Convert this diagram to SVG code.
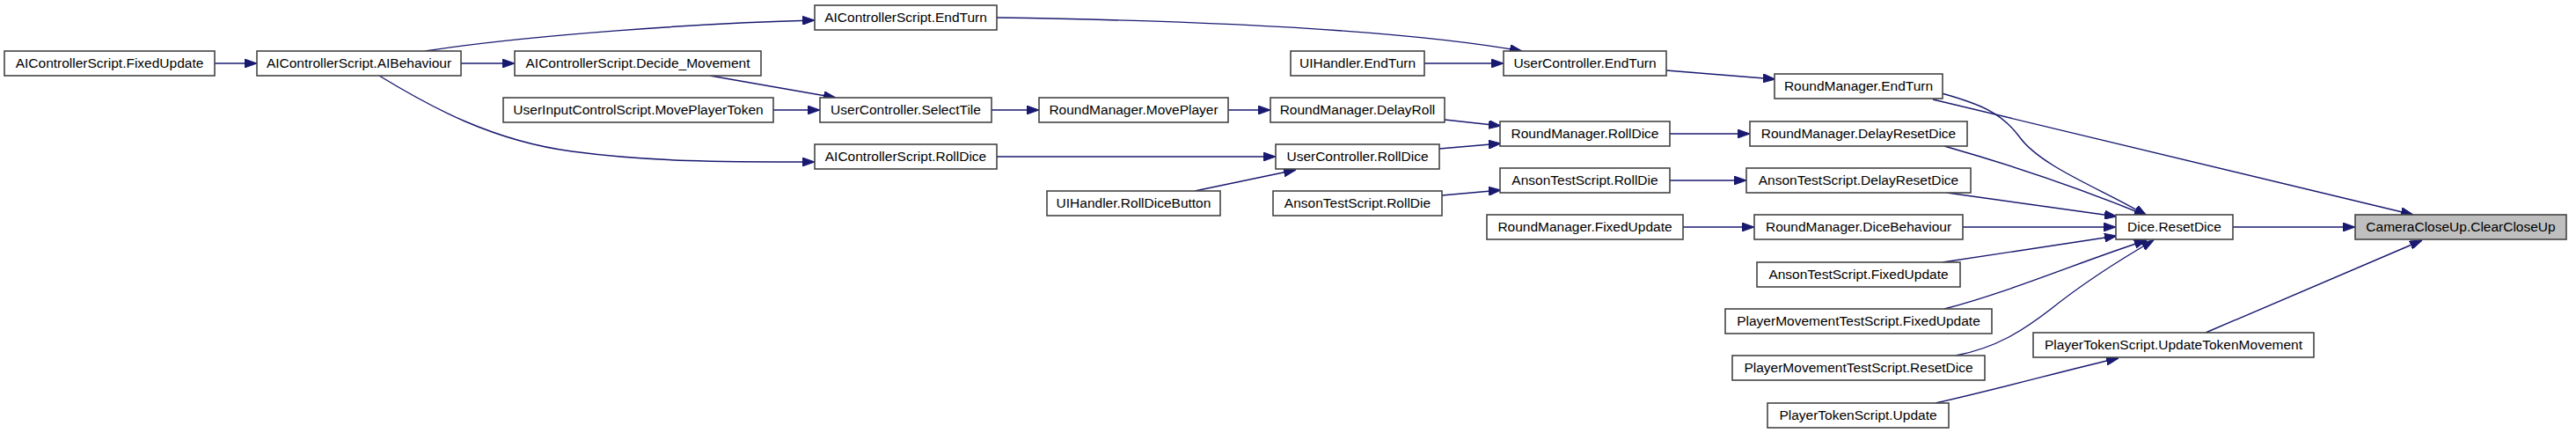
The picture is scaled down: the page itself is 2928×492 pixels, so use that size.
<svg xmlns="http://www.w3.org/2000/svg" width="2928" height="492" viewBox="0 0 2928 492">
<style>
.n rect{fill:#ffffff;stroke:#444444;stroke-width:1.6}
.n.hl rect{fill:#bfbfbf}
.n text{font-family:"Liberation Sans",Arial,sans-serif;font-size:15.5px;fill:#000000;text-anchor:middle}
#edges path{fill:none;stroke:#191970;stroke-width:1.4;marker-end:url(#arr)}
</style>
<defs>
<marker id="arr" viewBox="0 0 14 10" refX="14" refY="5" markerWidth="14" markerHeight="10" markerUnits="userSpaceOnUse" orient="auto">
<path d="M0,0 L14,5 L0,10 z" fill="#191970" stroke="#191970" stroke-width="1"/>
</marker>
</defs>
<rect width="2928" height="492" fill="#ffffff"/>
<g id="edges">
<path d="M244,72 L292,72"/>
<path d="M483,58 C600,40 800,26 926,23"/>
<path d="M524,72 L585,72"/>
<path d="M431,86 C490,122 560,160 650,172 C740,184 820,184 926,184"/>
<path d="M807,86 L950,111"/>
<path d="M879,125 L932,125"/>
<path d="M1133,20 C1400,24 1600,35 1730,58"/>
<path d="M1619,72 L1709,72"/>
<path d="M1127,125 L1181,125"/>
<path d="M1396,125 L1444,125"/>
<path d="M1133,178 L1450,178"/>
<path d="M1358,217 L1473,193"/>
<path d="M1642,136 L1706,143"/>
<path d="M1636,169 L1706,163"/>
<path d="M1639,222 L1706,216"/>
<path d="M1894,80 L2018,90"/>
<path d="M1898,152 L1989,152"/>
<path d="M1898,205 L1985,205"/>
<path d="M1913,258 L1994,258"/>
<path d="M2207,106 C2250,118 2275,128 2295,155 C2320,190 2390,215 2440,245"/>
<path d="M2197,113 L2743,244"/>
<path d="M2210,166 Q2330,200 2440,245"/>
<path d="M2213,219 L2406,246"/>
<path d="M2231,258 L2405,258"/>
<path d="M2208,298 L2406,268"/>
<path d="M2210,351 C2290,330 2370,295 2440,273"/>
<path d="M2223,404 C2270,395 2300,375 2330,352 C2370,320 2415,292 2448,273"/>
<path d="M2200,458 C2280,440 2350,420 2408,407"/>
<path d="M2538,258 L2677,258"/>
<path d="M2507,378 L2753,273"/>
</g>
<g id="n1" class="n"><rect x="5" y="58" width="239" height="28"/><text x="124.5" y="77">AIControllerScript.FixedUpdate</text></g>
<g id="n2" class="n"><rect x="292" y="58" width="232" height="28"/><text x="408" y="77">AIControllerScript.AIBehaviour</text></g>
<g id="n3" class="n"><rect x="585" y="58" width="280" height="28"/><text x="725" y="77">AIControllerScript.Decide_Movement</text></g>
<g id="n4" class="n"><rect x="926" y="6" width="207" height="28"/><text x="1029.5" y="25">AIControllerScript.EndTurn</text></g>
<g id="n5" class="n"><rect x="572" y="111" width="307" height="28"/><text x="725.5" y="130">UserInputControlScript.MovePlayerToken</text></g>
<g id="n6" class="n"><rect x="932" y="111" width="195" height="28"/><text x="1029.5" y="130">UserController.SelectTile</text></g>
<g id="n7" class="n"><rect x="926" y="164" width="207" height="28"/><text x="1029.5" y="183">AIControllerScript.RollDice</text></g>
<g id="n8" class="n"><rect x="1181" y="111" width="215" height="28"/><text x="1288.5" y="130">RoundManager.MovePlayer</text></g>
<g id="n9" class="n"><rect x="1190" y="217" width="197" height="28"/><text x="1288.5" y="236">UIHandler.RollDiceButton</text></g>
<g id="n10" class="n"><rect x="1444" y="111" width="198" height="28"/><text x="1543" y="130">RoundManager.DelayRoll</text></g>
<g id="n11" class="n"><rect x="1450" y="164" width="186" height="28"/><text x="1543" y="183">UserController.RollDice</text></g>
<g id="n12" class="n"><rect x="1447" y="217" width="192" height="28"/><text x="1543" y="236">AnsonTestScript.RollDie</text></g>
<g id="n13" class="n"><rect x="1467" y="58" width="152" height="28"/><text x="1543" y="77">UIHandler.EndTurn</text></g>
<g id="n14" class="n"><rect x="1709" y="58" width="185" height="28"/><text x="1801.5" y="77">UserController.EndTurn</text></g>
<g id="n15" class="n"><rect x="1705" y="138" width="193" height="28"/><text x="1801.5" y="157">RoundManager.RollDice</text></g>
<g id="n16" class="n"><rect x="1705" y="191" width="193" height="28"/><text x="1801.5" y="210">AnsonTestScript.RollDie</text></g>
<g id="n17" class="n"><rect x="1690" y="244" width="223" height="28"/><text x="1801.5" y="263">RoundManager.FixedUpdate</text></g>
<g id="n18" class="n"><rect x="2017" y="84" width="191" height="28"/><text x="2112.5" y="103">RoundManager.EndTurn</text></g>
<g id="n19" class="n"><rect x="1989" y="138" width="247" height="28"/><text x="2112.5" y="157">RoundManager.DelayResetDice</text></g>
<g id="n20" class="n"><rect x="1985" y="191" width="255" height="28"/><text x="2112.5" y="210">AnsonTestScript.DelayResetDice</text></g>
<g id="n21" class="n"><rect x="1994" y="244" width="237" height="28"/><text x="2112.5" y="263">RoundManager.DiceBehaviour</text></g>
<g id="n22" class="n"><rect x="1997" y="298" width="231" height="28"/><text x="2112.5" y="317">AnsonTestScript.FixedUpdate</text></g>
<g id="n23" class="n"><rect x="1961" y="351" width="303" height="28"/><text x="2112.5" y="370">PlayerMovementTestScript.FixedUpdate</text></g>
<g id="n24" class="n"><rect x="1969" y="404" width="287" height="28"/><text x="2112.5" y="423">PlayerMovementTestScript.ResetDice</text></g>
<g id="n25" class="n"><rect x="2009" y="458" width="206" height="28"/><text x="2112" y="477">PlayerTokenScript.Update</text></g>
<g id="n26" class="n"><rect x="2311" y="378" width="319" height="28"/><text x="2470.5" y="397">PlayerTokenScript.UpdateTokenMovement</text></g>
<g id="n27" class="n"><rect x="2405" y="244" width="133" height="28"/><text x="2471.5" y="263">Dice.ResetDice</text></g>
<g id="n28" class="n hl"><rect x="2677" y="244" width="240" height="28"/><text x="2797" y="263">CameraCloseUp.ClearCloseUp</text></g>
</svg>
